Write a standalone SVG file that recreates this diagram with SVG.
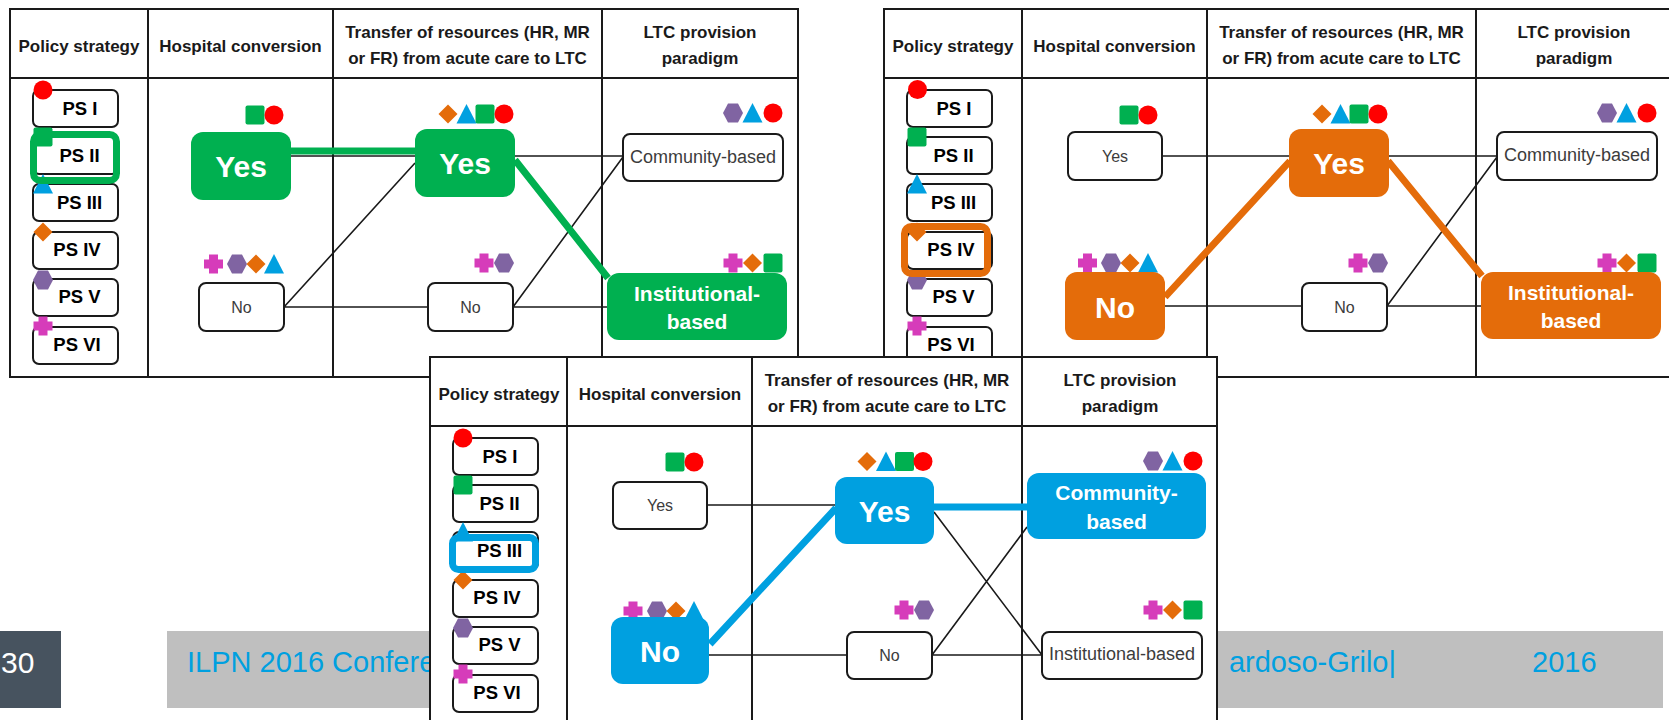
<svg xmlns="http://www.w3.org/2000/svg" xmlns:xlink="http://www.w3.org/1999/xlink" width="1669" height="720" viewBox="0 0 1669 720">
<style>
.grid{fill:none;stroke:#1a1a1a;stroke-width:2}
.pbg{fill:#fff;stroke:#1a1a1a;stroke-width:2}
.hdr{font-family:"Liberation Sans",Arial,sans-serif;font-weight:bold;font-size:17px;fill:#1a1a1a;text-anchor:middle}
.ps{fill:#fff;stroke:#1a1a1a;stroke-width:2}
.pst{font-family:"Liberation Sans",Arial,sans-serif;font-weight:bold;font-size:18.5px;fill:#000;text-anchor:middle}
.nb{fill:#fff;stroke:#1a1a1a;stroke-width:2}
.nt{font-family:"Liberation Sans",Arial,sans-serif;font-size:16px;fill:#3c3c3c;text-anchor:middle}
.nt2{font-family:"Liberation Sans",Arial,sans-serif;font-size:18px;fill:#3c3c3c;text-anchor:middle}
.bt{font-family:"Liberation Sans",Arial,sans-serif;font-weight:bold;fill:#fff;text-anchor:middle}
.yn{font-size:30px}
.two{font-size:21px}
.thin{fill:none;stroke:#1a1a1a;stroke-width:1.6}
.fg{fill:#00b050}.fo{fill:#e46c0a}.fb{fill:#00a0e0}
.lg{fill:none;stroke:#00b050;stroke-width:7}
.lo{fill:none;stroke:#e46c0a;stroke-width:7}
.lb{fill:none;stroke:#00a0e0;stroke-width:7}
.hg{fill:none;stroke:#00b050;stroke-width:7}
.ho{fill:none;stroke:#e46c0a;stroke-width:7}
.hb{fill:none;stroke:#00a0e0;stroke-width:7}
.ft{font-family:"Liberation Sans",Arial,sans-serif;font-size:29px;fill:#00a0e0}
</style>
<defs>
<circle id="mc" r="9.5" fill="#ff0000"/>
<rect id="msq" x="-9.5" y="-9.5" width="19" height="19" rx="2" fill="#00b050"/>
<polygon id="mtri" points="0,-10 10,9.5 -10,9.5" fill="#00a0e0"/>
<polygon id="mdia" points="0,-9.5 9.5,0 0,9.5 -9.5,0" fill="#e46c0a"/>
<polygon id="mhex" points="-10,0 -5,-9.5 5,-9.5 10,0 5,9.5 -5,9.5" fill="#8064a2"/>
<path id="mcr" d="M-4.5,-9.5h9v5h5v9h-5v5h-9v-5h-5v-9h5z" fill="#d63cba"/>
<g id="pscol">
<rect class="ps" x="33" y="90" width="85" height="37" rx="6"/>
<rect class="ps" x="33" y="137" width="85" height="37" rx="6"/>
<rect class="ps" x="33" y="184" width="85" height="37" rx="6"/>
<rect class="ps" x="33" y="232" width="85" height="37" rx="6"/>
<rect class="ps" x="33" y="279" width="85" height="37" rx="6"/>
<rect class="ps" x="33" y="327" width="85" height="37" rx="6"/>
</g>
</defs>

<g id="footer">
<rect x="-10" y="631" width="71" height="77" fill="#47535f"/>
<text x="1" y="673" font-family="'Liberation Sans',Arial,sans-serif" font-size="30" fill="#fff">30</text>
<rect x="167" y="631" width="1496" height="77" fill="#bfbfbf"/>
<text class="ft" x="187" y="672">ILPN 2016 Confere</text>
<text class="ft" x="1396" y="672" text-anchor="end">ardoso-Grilo|</text>
<text class="ft" x="1532" y="672">2016</text>
</g>

<!-- Panel 1 -->
<g id="panel1">
<rect class="pbg" x="10" y="9" width="788" height="368"/>
<path class="grid" d="M10,78H798M148,9V377M333,9V377M602,9V377"/>
<text class="hdr" x="79" y="52">Policy strategy</text>
<text class="hdr" x="240.5" y="52">Hospital conversion</text>
<text class="hdr" x="467.5" y="38">Transfer of resources (HR, MR</text>
<text class="hdr" x="467.5" y="64">or FR) from acute care to LTC</text>
<text class="hdr" x="700" y="38">LTC provision</text>
<text class="hdr" x="700" y="64">paradigm</text>
<g id="p1-connectors">
<path class="thin" d="M291,156H415M284,307L415,163M284,307H428M515,156H623M513,307L623,157M513,307H607"/>
<path class="lg" d="M291,151H415M515,160L608,278"/>
</g>
<g id="p1-sets">
<use href="#msq" x="255" y="115"/><use href="#mc" x="274" y="115"/>
<use href="#mcr" x="213.5" y="264"/><use href="#mhex" x="237" y="264"/><use href="#mdia" x="256" y="264"/><use href="#mtri" x="274" y="264"/>
<use href="#mdia" x="448" y="114"/><use href="#mtri" x="466.5" y="114"/><use href="#msq" x="485" y="114"/><use href="#mc" x="504" y="114"/>
<use href="#mcr" x="484" y="263"/><use href="#mhex" x="504" y="263"/>
<use href="#mhex" x="733" y="113"/><use href="#mtri" x="752.5" y="113"/><use href="#mc" x="773" y="113"/>
<use href="#mcr" x="733" y="263"/><use href="#mdia" x="752.5" y="263"/><use href="#msq" x="773" y="263"/>
</g>
<g id="p1-hc-yes"><rect class="fg" x="191" y="132" width="100" height="68" rx="12"/><text class="bt yn" x="241" y="177">Yes</text></g>
<g id="p1-hc-no"><rect class="nb" x="199" y="283" width="85" height="48" rx="7"/><text class="nt" x="241.5" y="313">No</text></g>
<g id="p1-tr-yes"><rect class="fg" x="415" y="129" width="100" height="68" rx="12"/><text class="bt yn" x="465" y="174">Yes</text></g>
<g id="p1-tr-no"><rect class="nb" x="428" y="283" width="85" height="48" rx="7"/><text class="nt" x="470.5" y="313">No</text></g>
<g id="p1-ltc-comm"><rect class="nb" x="623" y="134" width="160" height="47" rx="7"/><text class="nt2" x="703" y="163">Community-based</text></g>
<g id="p1-ltc-inst"><rect class="fg" x="607" y="273" width="180" height="67" rx="12"/><text class="bt two" x="697" y="301">Institutional-</text><text class="bt two" x="697" y="329">based</text></g>
<g id="p1-ps">
<use href="#pscol"/>
<use href="#mc" x="43" y="90"/><use href="#msq" x="43" y="137"/><use href="#mtri" x="43" y="184"/><use href="#mdia" x="43" y="232"/><use href="#mhex" x="43" y="280"/><use href="#mcr" x="43" y="326"/>
<text class="pst" x="80" y="115">PS I</text>
<text class="pst" x="79.5" y="162">PS II</text>
<text class="pst" x="79.5" y="209">PS III</text>
<text class="pst" x="77" y="256">PS IV</text>
<text class="pst" x="79.5" y="303">PS V</text>
<text class="pst" x="77" y="351">PS VI</text>
<rect class="hg" x="33.5" y="134.5" width="83" height="46" rx="7"/>
</g>
</g>

<!-- Panel 2 -->
<g id="panel2" transform="translate(874,0)">
<rect class="pbg" x="10" y="9" width="788" height="368"/>
<path class="grid" d="M10,78H798M148,9V377M333,9V377M602,9V377"/>
<text class="hdr" x="79" y="52">Policy strategy</text>
<text class="hdr" x="240.5" y="52">Hospital conversion</text>
<text class="hdr" x="467.5" y="38">Transfer of resources (HR, MR</text>
<text class="hdr" x="467.5" y="64">or FR) from acute care to LTC</text>
<text class="hdr" x="700" y="38">LTC provision</text>
<text class="hdr" x="700" y="64">paradigm</text>
<g id="p2-connectors">
<path class="thin" d="M288,156H415M291,306H428M515,156H623M513,306L623,157M513,306H607"/>
<path class="lo" d="M291,297L416,161M514,161L608,276"/>
</g>
<g id="p2-sets">
<use href="#msq" x="255" y="115"/><use href="#mc" x="274" y="115"/>
<use href="#mcr" x="213.5" y="263"/><use href="#mhex" x="237" y="263"/><use href="#mdia" x="256" y="263"/><use href="#mtri" x="274" y="263"/>
<use href="#mdia" x="448" y="114"/><use href="#mtri" x="466.5" y="114"/><use href="#msq" x="485" y="114"/><use href="#mc" x="504" y="114"/>
<use href="#mcr" x="484" y="263"/><use href="#mhex" x="504" y="263"/>
<use href="#mhex" x="733" y="113"/><use href="#mtri" x="752.5" y="113"/><use href="#mc" x="773" y="113"/>
<use href="#mcr" x="733" y="263"/><use href="#mdia" x="752.5" y="263"/><use href="#msq" x="773" y="263"/>
</g>
<g id="p2-hc-yes"><rect class="nb" x="194" y="132" width="94" height="48" rx="7"/><text class="nt" x="241" y="162">Yes</text></g>
<g id="p2-hc-no"><rect class="fo" x="191" y="272" width="100" height="68" rx="12"/><text class="bt yn" x="241" y="318">No</text></g>
<g id="p2-tr-yes"><rect class="fo" x="415" y="129" width="100" height="68" rx="12"/><text class="bt yn" x="465" y="174">Yes</text></g>
<g id="p2-tr-no"><rect class="nb" x="428" y="283" width="85" height="48" rx="7"/><text class="nt" x="470.5" y="313">No</text></g>
<g id="p2-ltc-comm"><rect class="nb" x="623" y="132" width="160" height="48" rx="7"/><text class="nt2" x="703" y="161">Community-based</text></g>
<g id="p2-ltc-inst"><rect class="fo" x="607" y="272" width="180" height="67" rx="12"/><text class="bt two" x="697" y="300">Institutional-</text><text class="bt two" x="697" y="328">based</text></g>
<g id="p2-ps">
<use href="#pscol"/>
<use href="#mc" x="43.5" y="89.5"/><use href="#msq" x="43" y="137"/><use href="#mtri" x="43" y="184"/><use href="#mdia" x="43" y="232"/><use href="#mhex" x="43" y="280"/><use href="#mcr" x="43" y="326"/>
<text class="pst" x="80" y="115">PS I</text>
<text class="pst" x="79.5" y="162">PS II</text>
<text class="pst" x="79.5" y="209">PS III</text>
<text class="pst" x="77" y="256">PS IV</text>
<text class="pst" x="79.5" y="303">PS V</text>
<text class="pst" x="77" y="351">PS VI</text>
<rect class="ho" x="30.5" y="226.5" width="83" height="47" rx="7"/>
</g>
</g>

<!-- Panel 3 -->
<g id="panel3" transform="translate(420,348)">
<rect class="pbg" x="10" y="9" width="787" height="380"/>
<path class="grid" d="M10,78H797M147,9V389M332,9V389M602,9V389"/>
<text class="hdr" x="79" y="52">Policy strategy</text>
<text class="hdr" x="240" y="52">Hospital conversion</text>
<text class="hdr" x="467" y="38">Transfer of resources (HR, MR</text>
<text class="hdr" x="467" y="64">or FR) from acute care to LTC</text>
<text class="hdr" x="700" y="38">LTC provision</text>
<text class="hdr" x="700" y="64">paradigm</text>
<g id="p3-connectors">
<path class="thin" d="M287,157H415M289,307H427M514,164L622,307M512,307L607,179M512,307H622"/>
<path class="lb" d="M290,296L416,160M514,159H607"/>
</g>
<g id="p3-sets">
<use href="#msq" x="255" y="114"/><use href="#mc" x="274" y="114"/>
<use href="#mcr" x="213" y="263"/><use href="#mhex" x="237" y="263"/><use href="#mdia" x="256" y="263"/><use href="#mtri" x="274" y="263"/>
<use href="#mdia" x="447" y="113.5"/><use href="#mtri" x="466" y="113.5"/><use href="#msq" x="484.5" y="113.5"/><use href="#mc" x="503" y="113.5"/>
<use href="#mcr" x="484" y="262"/><use href="#mhex" x="504" y="262"/>
<use href="#mhex" x="733" y="113"/><use href="#mtri" x="752.5" y="113"/><use href="#mc" x="773" y="113"/>
<use href="#mcr" x="733" y="262"/><use href="#mdia" x="752.5" y="262"/><use href="#msq" x="773" y="262"/>
</g>
<g id="p3-hc-yes"><rect class="nb" x="193" y="134" width="94" height="47" rx="7"/><text class="nt" x="240" y="163">Yes</text></g>
<g id="p3-hc-no"><rect class="fb" x="191" y="269" width="98" height="67" rx="12"/><text class="bt yn" x="240" y="314">No</text></g>
<g id="p3-tr-yes"><rect class="fb" x="415" y="129" width="99" height="67" rx="12"/><text class="bt yn" x="464.5" y="174">Yes</text></g>
<g id="p3-tr-no"><rect class="nb" x="427" y="284" width="85" height="47" rx="7"/><text class="nt" x="469.5" y="313">No</text></g>
<g id="p3-ltc-comm"><rect class="fb" x="607" y="125" width="179" height="66" rx="12"/><text class="bt two" x="696.5" y="152">Community-</text><text class="bt two" x="696.5" y="181">based</text></g>
<g id="p3-ltc-inst"><rect class="nb" x="622" y="284" width="160" height="47" rx="7"/><text class="nt2" x="702" y="312">Institutional-based</text></g>
<g id="p3-ps">
<use href="#pscol"/>
<use href="#mc" x="43" y="90"/><use href="#msq" x="43" y="137"/><use href="#mtri" x="43" y="184"/><use href="#mdia" x="43" y="232"/><use href="#mhex" x="43" y="280"/><use href="#mcr" x="43" y="326"/>
<text class="pst" x="80" y="115">PS I</text>
<text class="pst" x="79.5" y="162">PS II</text>
<text class="pst" x="79.5" y="209">PS III</text>
<text class="pst" x="77" y="256">PS IV</text>
<text class="pst" x="79.5" y="303">PS V</text>
<text class="pst" x="77" y="351">PS VI</text>
<rect class="hb" x="32.5" y="189.5" width="83" height="32" rx="6"/>
</g>
</g>
</svg>
